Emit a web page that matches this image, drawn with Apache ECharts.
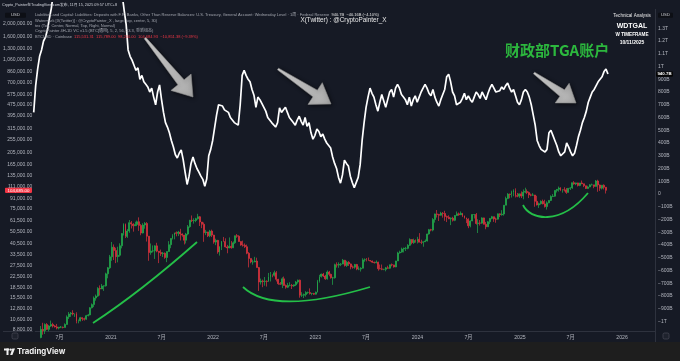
<!DOCTYPE html>
<html><head><meta charset="utf-8">
<script src="https://cdn.jsdelivr.net/npm/echarts@6/dist/echarts.min.js"></script>
<style>html,body{margin:0;padding:0;background:#161a25;overflow:hidden}#c{width:680px;height:361px}</style>
</head><body><div id="c"></div>
<script>
// ---------------- DATA ----------------
// BTCUSD weekly candles (Coinbase), values in thousand USD. Week starts (Mondays) from btcStart.
const btcStart = '2020-04-13';
const btcFirstOpen = 6.9;
const btcClose = [
 7.1,7.7,8.9,8.7,9.7,8.9,9.45,9.7,9.45,9.3,9.1,9.25,9.25,9.2,9.7,11.1,11.7,11.85,11.7,11.7,10.25,10.35,10.95,10.75,10.65,11.35,11.5,13.05,13.8,15.5,16.05,18.4,18.2,19.2,19.25,23.8,26.5,32.2,
 38.2,36.0,32.3,33.1,39.2,48.6,57.4,46.2,50.9,59.0,57.5,55.8,57.0,60.0,56.2,49.1,56.6,58.2,46.4,34.7,35.7,35.8,39.1,35.6,34.7,34.0,34.3,31.8,35.4,39.9,44.6,47.1,49.3,48.8,49.9,48.3,47.3,43.2,48.2,54.9,61.5,61.1,61.3,63.3,65.5,59.7,57.3,49.4,50.1,46.7,50.8,47.3,
 41.8,43.1,35.1,38.5,42.4,42.2,38.4,37.7,38.8,37.8,41.3,46.8,46.4,42.2,39.7,39.5,38.5,34.3,31.3,29.4,29.4,29.9,26.6,20.6,21.0,20.8,20.9,20.8,22.6,23.3,23.2,24.3,21.6,20.0,19.8,21.8,19.4,18.8,19.4,19.4,19.2,19.6,20.6,21.3,16.3,16.3,16.5,17.1,17.1,16.8,16.8,16.6,
 17.2,20.9,22.7,23.7,22.9,21.8,24.6,23.6,22.2,22.2,28.0,27.8,28.2,28.3,30.3,27.6,29.2,28.4,26.9,26.8,28.1,25.9,25.9,26.3,30.5,30.6,30.2,30.1,29.9,29.3,29.0,29.3,26.1,26.0,25.8,25.8,26.5,26.3,28.0,27.9,26.9,29.9,34.5,35.0,37.0,37.4,37.4,39.5,43.8,41.4,43.0,42.3,
 44.0,41.7,41.6,42.0,42.6,48.3,52.1,51.7,62.4,68.9,68.3,67.2,69.7,69.4,65.7,64.9,63.1,63.9,61.5,66.9,69.0,67.8,69.6,66.6,64.3,62.7,55.8,60.8,68.2,68.2,58.1,58.7,58.5,64.2,57.3,54.8,59.9,63.6,65.6,62.9,62.8,69.0,67.9,68.7,80.4,90.6,97.9,97.3,101.2,104.5,95.1,94.3,98.3,
 94.5,101.3,102.6,100.6,96.5,96.1,96.3,86.1,80.7,82.6,86.1,82.3,78.4,83.8,87.5,93.8,94.3,104.5,106.5,109.0,104.6,105.7,105.5,100.9,108.4,109.2,119.8,117.3,119.4,114.2,119.3,117.5,113.5,108.2,111.1,115.3,115.3,112.2,123.5,115.1,108.7,114.5,110.5,104.68493
];
const btcHigh = [
 7.3,7.8,9.45,10.0,9.9,9.95,9.6,10.4,10.0,9.6,9.8,9.3,9.45,9.35,9.9,11.4,12.1,12.1,12.5,11.8,12.05,10.6,11.1,11.0,10.95,11.5,11.7,13.2,14.1,15.95,16.5,18.8,19.4,19.9,19.4,24.3,26.9,33.3,
 41.9,40.1,37.8,38.5,40.9,49.0,58.3,58.1,52.6,61.8,60.7,58.4,60.0,61.2,64.8,57.5,58.4,59.6,59.6,46.6,40.8,39.4,39.5,41.3,35.7,36.6,35.1,34.8,35.4,42.5,44.7,48.1,49.4,50.5,51.0,52.9,48.8,47.3,49.2,56.6,62.0,67.0,63.7,64.3,69.0,66.3,59.4,59.2,51.9,50.1,51.9,52.1,
 47.6,44.4,43.5,38.9,42.6,45.8,44.7,39.8,45.4,42.6,42.3,46.9,48.2,47.2,42.4,42.9,40.8,40.0,35.0,31.3,30.6,32.2,31.7,26.9,21.9,21.5,22.5,21.2,24.2,24.6,23.6,25.2,25.0,21.8,20.6,22.4,22.7,19.7,20.3,20.5,19.9,19.7,21.0,21.5,21.5,17.2,16.8,17.5,17.4,18.4,17.0,17.0,
 17.4,21.4,23.4,23.9,24.2,23.4,25.3,25.1,23.9,22.6,28.5,29.2,29.2,28.8,31.0,30.5,30.0,29.8,28.6,27.6,28.4,28.4,27.2,26.8,31.4,31.3,31.5,31.8,30.4,30.1,29.5,30.2,29.5,28.1,28.1,26.0,26.9,27.5,28.0,28.6,28.0,30.0,35.2,35.9,37.9,37.9,38.4,40.3,44.7,44.0,44.4,43.8,
 45.9,49.0,43.6,42.2,43.8,48.5,52.8,52.9,64.0,69.2,73.8,68.9,71.5,71.2,72.8,66.9,67.2,64.7,65.5,67.5,71.9,70.6,72.0,70.2,66.9,64.5,63.8,61.4,68.4,68.5,70.0,62.7,61.8,64.9,64.5,59.8,60.6,64.1,66.5,65.6,64.5,69.4,69.5,73.6,80.5,93.5,99.6,98.7,104.0,106.6,108.4,99.9,98.9,
 102.7,106.3,109.6,106.4,102.5,98.8,99.5,96.5,95.0,84.1,87.5,88.8,88.5,86.1,88.0,95.8,97.9,104.6,107.1,111.9,110.7,106.8,110.5,108.9,108.5,110.5,119.9,123.2,120.0,119.8,119.3,124.5,117.6,113.5,113.4,116.7,117.9,115.4,125.7,126.2,116.0,114.6,116.4,110.9
];
const btcLow = [
 6.5,6.8,7.6,8.1,8.2,8.8,8.6,9.3,9.2,9.2,8.9,8.9,9.1,9.05,9.2,9.7,10.7,11.1,11.4,11.1,9.9,9.9,10.25,10.35,10.4,10.55,11.2,11.4,12.9,13.2,14.8,15.8,16.2,18.2,17.6,19.0,22.0,26.0,
 30.0,30.4,28.8,29.2,32.3,37.4,47.0,44.9,45.0,49.3,53.2,50.3,55.8,55.5,51.0,47.2,48.7,53.0,42.2,30.0,33.4,34.8,31.0,34.9,28.8,32.7,32.1,31.1,29.3,35.2,37.5,43.8,43.9,46.3,46.5,43.0,46.0,40.1,40.8,47.1,53.9,59.6,58.0,59.5,62.3,55.6,53.5,42.0,47.3,45.7,45.6,45.7,
 40.6,39.6,34.0,32.9,36.3,41.8,38.0,34.3,37.5,37.2,37.6,40.5,45.1,42.1,39.2,38.6,37.7,33.7,26.7,28.7,28.0,29.3,26.6,17.6,19.7,18.8,19.3,19.0,20.7,20.8,22.4,22.7,20.8,19.6,19.6,18.5,19.3,18.3,18.5,19.1,18.2,18.9,19.2,20.0,15.6,15.8,15.5,15.9,16.7,16.5,16.3,16.4,
 16.5,17.1,20.4,22.3,22.5,21.4,21.5,22.8,21.9,19.6,21.9,26.6,26.5,27.3,28.3,27.1,26.9,27.4,25.8,26.1,26.1,25.4,25.4,24.8,26.2,29.5,29.7,29.9,29.6,28.9,28.6,28.7,25.2,25.8,25.4,25.4,24.9,26.1,26.0,27.2,26.6,26.8,29.9,34.1,34.6,34.8,35.7,36.8,39.0,40.2,40.5,41.4,
 40.8,41.7,40.3,38.5,41.9,42.3,47.7,50.6,50.6,59.0,64.6,60.8,66.9,64.5,61.0,59.6,62.8,56.5,60.2,60.6,66.6,66.7,67.5,65.1,63.4,58.5,53.5,54.3,60.6,63.5,57.0,49.1,56.1,57.8,57.2,52.5,54.6,57.5,62.7,59.8,58.9,62.4,65.1,66.8,66.8,80.3,89.4,90.8,92.1,94.2,92.2,92.6,91.5,
 91.2,89.3,99.5,97.8,91.2,94.1,94.9,78.2,80.1,76.6,81.2,81.6,77.1,74.4,83.2,86.5,92.8,93.4,100.7,102.2,103.1,100.4,102.6,98.2,100.8,105.3,107.5,115.7,114.7,112.0,112.6,116.8,110.8,107.3,107.3,110.6,114.4,108.6,111.9,102.0,103.5,106.3,106.3,98.9
];
// Treasury General Account, Wednesday level (billions USD), weekly from tgaStart.
const tgaStart = '2020-04-08';
const tgaValues = [
 640,850,980,1080, 1130,1200,1230,1290, 1380,1460,1580,1680, 1790,1780,1760,1770,1780, 1710,1650,1700,1740, 1780,1760,1720,1750,1780, 1720,1680,1660,1640, 1620,1580,1560,1600, 1640,1620,1680,1700,1730,
 1700,1650,1620,1600, 1640,1600,1560,1440, 1330,1130,1080,1050,1010, 970,990,900,930, 880,860,840,800, 830,760,700,800,855, 740,640,560,525, 480,420,370,310, 282,320,345,270,170, 75,140,240,290, 240,200,172,140, 115,60,120,300,350,
 420,520,620,700, 714,690,660,675, 640,600,580,560,545, 540,700,930,970, 930,900,880,820, 775,680,760,740,710, 700,650,600,590, 560,545,525,560,675, 640,660,680,640, 600,580,560,540, 580,610,570,540,600, 530,560,480,430,
 460,510,490,450, 470,430,400,390, 360,290,240,200,130, 85,150,265,240, 220,140,90,50,60, 130,230,420,560, 680,760,830,790, 760,700,650,720,780, 730,680,740,800, 820,760,830,860, 830,780,760,740,700, 760,690,740,770,
 720,760,800,830,860, 830,790,770,820, 760,720,690,740, 780,820,920,940, 880,800,770,700,690, 720,750,790,740, 770,740,720,760,800, 780,750,800,770, 740,790,830,860, 830,800,790,810,840, 820,850,870,830, 800,820,770,720,
 700,740,800,820,800, 760,700,620,540, 420,380,350,345, 330,350,480,500,460, 420,380,330,300, 290,330,400,370, 330,300,320,380,450, 500,560,600,650, 720,760,800,820, 850,880,900,920,960, 980.9,940.7
];
// Axis tick labels
const btcTicks = [8800,10600,12800,15500,18500,22500,27500,33500,40500,50500,61500,75000,91000,111000,135000,165000,205000,255000,315000,395000,475000,575000,700000,860000,1060000,1300000,1600000,2000000];
const tgaTicks = [-1000,-900,-800,-700,-600,-500,-400,-300,-200,-100,0,100,200,300,400,500,600,700,800,900,1000,1100,1200,1300];
const xTickDates = ['2020-07-01','2021-01-01','2021-07-01','2022-01-01','2022-07-01','2023-01-01','2023-07-01','2024-01-01','2024-07-01','2025-01-01','2025-07-01','2026-01-01'];

// ---------------- BUILD ----------------
const FF = "'Liberation Sans', Arial, sans-serif";
const CJK = "'Noto Sans CJK SC', sans-serif";
const MIX = "'Liberation Sans','Noto Sans CJK SC',sans-serif";
const WEEK = 7*86400000;
const t0b = Date.parse(btcStart+'T00:00:00Z');
const t0t = Date.parse(tgaStart+'T00:00:00Z');
const candles = btcClose.map((c,i)=>{
  const o = i===0 ? btcFirstOpen : btcClose[i-1];
  return [t0b+i*WEEK, Math.log10(o*1000), Math.log10(c*1000), Math.log10(btcLow[i]*1000), Math.log10(btcHigh[i]*1000)];
});
const tgaLine = tgaValues.map((v,i)=>[t0t+i*WEEK, v]);

// layout of the time axis (pane x 33..655; 2021 at x109, 2026 at x622)
const T21 = Date.UTC(2021,0,1), T26 = Date.UTC(2026,0,1);
const pxPerMs = (622-109)/(T26-T21);
const xMin = T21 - (109-33)/pxPerMs, xMax = T26 + (655-622)/pxPerMs;
// log-price pane geometry (y=187 <-> 111,000; 129.9 px per decade)
const LREF = Math.log10(111000), PPD = 129.9;
const yLogMin = LREF - (331-187)/PPD, yLogMax = LREF + 187/PPD;

const fmtUSD = v => Number(Math.round(Math.pow(10,v))).toLocaleString('en-US',{minimumFractionDigits:2,maximumFractionDigits:2});
const fmtTGA = v => v===0 ? '0' : (Math.abs(v)>=1000 ? (v<0?'−':'')+(Math.abs(v)/1000)+'T' : (v<0?'−':'')+Math.abs(v)+'B');
const fmtDate = v => { const d = new Date(v); return d.getUTCMonth()===0 ? String(d.getUTCFullYear()) : '7月'; };

const chart = echarts.init(document.getElementById('c'));
const axisTxt = {color:'#b2b5be', fontSize:5, fontFamily:FF};
chart.setOption({
  animation:false,
  backgroundColor:'#161a25',
  grid:[
    {left:33, right:25, top:0, bottom:30},
    {left:33, right:25, top:2.75, bottom:26.75}
  ],
  xAxis:[
    {type:'value', gridIndex:0, min:xMin, max:xMax,
     axisLine:{show:true, onZero:false, lineStyle:{color:'#2e323e', width:1}}, axisTick:{show:false}, splitLine:{show:false},
     axisLabel:Object.assign({}, axisTxt, {fontSize:5.2, margin:3.5, fontFamily:MIX,
       customValues:xTickDates.map(d=>Date.parse(d+'T00:00:00Z')), formatter:fmtDate})},
    {type:'value', gridIndex:1, min:xMin, max:xMax, show:false}
  ],
  yAxis:[
    {type:'value', gridIndex:0, position:'left', min:yLogMin, max:yLogMax,
     axisLine:{show:false}, axisTick:{show:false}, splitLine:{show:false},
     axisLabel:Object.assign({}, axisTxt, {margin:3, customValues:btcTicks.map(v=>Math.log10(v)), formatter:fmtUSD})},
    {type:'value', gridIndex:1, position:'right', min:-1100, max:1500, interval:100,
     axisLine:{show:false}, axisTick:{show:false}, splitLine:{show:false},
     axisLabel:Object.assign({}, axisTxt, {margin:3, customValues:tgaTicks, formatter:fmtTGA})}
  ],
  series:[
    {type:'candlestick', xAxisIndex:0, yAxisIndex:0, data:candles, encode:{x:0, y:[1,2,3,4]},
     barWidth:1.4, clip:true,
     itemStyle:{color:'#22ae4c', color0:'#e0333d', borderColor:'#22ae4c', borderColor0:'#e0333d', borderWidth:0.7}},
    {type:'line', xAxisIndex:1, yAxisIndex:1, data:tgaLine, showSymbol:false, symbol:'none', clip:true, z:5,
     lineStyle:{color:'#ffffff', width:1.7}}
  ]
});

// ---------------- ANNOTATIONS ----------------
function arrowPts(x1,y1,x2,y2,tailW,shaftW,headW,headL){
  const dx=x2-x1, dy=y2-y1, L=Math.hypot(dx,dy), ux=dx/L, uy=dy/L, nx=-uy, ny=ux;
  const bx=x2-ux*headL, by=y2-uy*headL;
  return [[x1+nx*tailW/2,y1+ny*tailW/2],[bx+nx*shaftW/2,by+ny*shaftW/2],[bx+nx*headW/2,by+ny*headW/2],[x2,y2],
          [bx-nx*headW/2,by-ny*headW/2],[bx-nx*shaftW/2,by-ny*shaftW/2],[x1-nx*tailW/2,y1-ny*tailW/2]];
}
const arrowStyle = {fill:new echarts.graphic.LinearGradient(0,0,1,0,[{offset:0,color:'#d6d6d6'},{offset:1,color:'#a9a9a9'}]),
  stroke:'#8c8c8c', lineWidth:0.6, shadowBlur:4, shadowColor:'rgba(0,0,0,0.6)', shadowOffsetX:1, shadowOffsetY:1};
const green = '#24bf48';
function txt(x,y,text,size,fill,opts){
  return Object.assign({type:'text', x, y, z:50, silent:true,
    style:Object.assign({text, fill, fontSize:size, fontFamily:FF, align:'left', verticalAlign:'middle'}, (opts||{}))});
}
const lastC = candles[candles.length-1];
const lastT = tgaLine[tgaLine.length-1];
let pBtc = chart.convertToPixel({gridIndex:0}, [lastC[0], lastC[2]]) || [0,190];
let pTga = chart.convertToPixel({gridIndex:1}, [lastT[0], lastT[1]]) || [0,74];
const legendGray = '#a3a6af';
const g = [
  {type:'line', z:40, silent:true, shape:{x1:655.5, y1:9, x2:655.5, y2:342}, style:{stroke:'#2e323e', lineWidth:1}},
  {type:'line', z:40, silent:true, shape:{x1:3, y1:331.5, x2:33, y2:331.5}, style:{stroke:'#2e323e', lineWidth:1}},
  {type:'rect', z:40, silent:true, shape:{x:0, y:342, width:680, height:19}, style:{fill:'#1e1e1e'}},
  {type:'rect', z:41, silent:true, shape:{x:4, y:348.5, width:5, height:2}, style:{fill:'#f0f0f0'}},
  {type:'rect', z:41, silent:true, shape:{x:6.5, y:348.5, width:2, height:6.5}, style:{fill:'#f0f0f0'}},
  {type:'circle', z:41, silent:true, shape:{cx:10.6, cy:349.6, r:1.2}, style:{fill:'#f0f0f0'}},
  {type:'polygon', z:41, silent:true, shape:{points:[[12.3,348.5],[15,348.5],[12.4,355],[10.2,355]]}, style:{fill:'#f0f0f0'}},
  txt(17, 352, 'TradingView', 7.8, '#f0f0f0', {fontWeight:'bold', fontFamily:"Inter, 'Liberation Sans', sans-serif"}),
  {type:'rect', z:41, silent:true, shape:{x:12, y:333, width:6, height:6, r:1.5}, style:{fill:'#1e222d', stroke:'#50535e', lineWidth:0.6}},
  {type:'rect', z:41, silent:true, shape:{x:663, y:333, width:6, height:6, r:1.5}, style:{fill:'#1e222d', stroke:'#50535e', lineWidth:0.6}},
  {type:'rect', z:41, silent:true, shape:{x:5, y:12.7, width:21, height:5, r:1}, style:{fill:'#0d0f15'}},
  txt(15.5, 15.2, 'USD', 4.2, '#d1d4dc', {align:'center'}),
  {type:'rect', z:41, silent:true, shape:{x:658, y:12.7, width:15, height:5, r:1}, style:{fill:'#0d0f15'}},
  txt(665.5, 15.2, 'USD', 4.2, '#d1d4dc', {align:'center'}),
  {type:'rect', z:42, silent:true, shape:{x:5, y:pBtc[1]-2.6, width:27, height:5.2, r:0.8}, style:{fill:'#f23645'}},
  txt(18.5, pBtc[1], fmtUSD(lastC[2]), 4.4, '#ffffff', {align:'center'}),
  {type:'rect', z:42, silent:true, shape:{x:656, y:pTga[1]-2.6, width:17, height:5.2, r:0.8}, style:{fill:'#050505'}},
  txt(664.5, pTga[1], lastT[1].toFixed(1)+'B', 4.4, '#ffffff', {align:'center', fontWeight:'bold'}),
  txt(2, 4.5, 'Crypto_Painter在TradingView.com发布, 11月 15, 2025 09:57 UTC+8', 3.8, '#d1d4dc', {fontFamily:MIX}),
  txt(35, 15, '{g|Liabilities and Capital: Liabilities: Deposits with F.R. Banks, Other Than Reserve Balances: U.S. Treasury, General Account: Wednesday Level · 1周 · Federal Reserve}  {w|940.7B  −40.16B (−4.10%)}', 4.0, legendGray,
    {rich:{g:{fill:legendGray, fontSize:4.0, fontFamily:MIX}, w:{fill:'#e6e6e6', fontSize:4.0, fontFamily:FF}}}),
  txt(35, 20.6, 'Watermark [X(Twitter)] : @CryptoPainter_X , large, top, center, 5, 30)', 4.0, legendGray),
  txt(35, 25.8, 'tex (Top, Center, Normal, Top, Right, Normal)', 4.0, legendGray),
  txt(35, 31, 'CryptoPainter 4H-1D VC v1.5 (BTC[通用], 5, 2, 56, 33.3, 重新组态)', 4.0, legendGray, {fontFamily:MIX}),
  txt(35, 36.6, '{g|BTCUSD · Coinbase}  {r|115,531.31  115,789.00  98,200.00  104,684.93  −10,851.38 (−9.39%)}', 4.0, legendGray,
    {rich:{g:{fill:legendGray, fontSize:4.0, fontFamily:FF}, r:{fill:'#f23645', fontSize:4.0, fontFamily:FF}}}),
  txt(343.5, 20.5, 'X(Twitter) : @CryptoPainter_X', 6.4, '#e8e8e8', {align:'center'}),
  txt(632, 16, 'Technical Analysis', 4.6, '#e8e8e8', {align:'center'}),
  txt(632, 25.7, 'WDTGAL', 7, '#ffffff', {align:'center', fontWeight:'bold'}),
  txt(632, 34.7, 'W TIMEFRAME', 4.6, '#ffffff', {align:'center', fontWeight:'bold'}),
  txt(632, 42.7, '10/11/2025', 5, '#ffffff', {align:'center', fontWeight:'bold'}),
  txt(505, 50, '财政部TGA账户', 15, '#2cb83e', {fontFamily:CJK, fontWeight:'bold'}),
  {type:'polygon', z:30, silent:true, shape:{points:arrowPts(145,38,193,97,2,8,26,19)}, style:arrowStyle},
  {type:'polygon', z:30, silent:true, shape:{points:arrowPts(278,69,331,104,2,8,26,19)}, style:arrowStyle},
  {type:'polygon', z:30, silent:true, shape:{points:arrowPts(534,73,576,103,2,8,24,17)}, style:arrowStyle},
  {type:'bezierCurve', z:30, silent:true, shape:{x1:93, y1:323, cpx1:141, cpy1:291.5, x2:197, y2:242}, style:{stroke:green, lineWidth:1.8, fill:null}},
  {type:'bezierCurve', z:30, silent:true, shape:{x1:243, y1:287, cpx1:262, cpy1:305, cpx2:300, cpy2:308, x2:370, y2:287}, style:{stroke:green, lineWidth:1.8, fill:null}},
  {type:'bezierCurve', z:30, silent:true, shape:{x1:523, y1:205, cpx1:530, cpy1:220, cpx2:560, cpy2:226, x2:588, y2:193}, style:{stroke:green, lineWidth:1.8, fill:null}}
];
chart.setOption({graphic:g});
</script></body></html>
